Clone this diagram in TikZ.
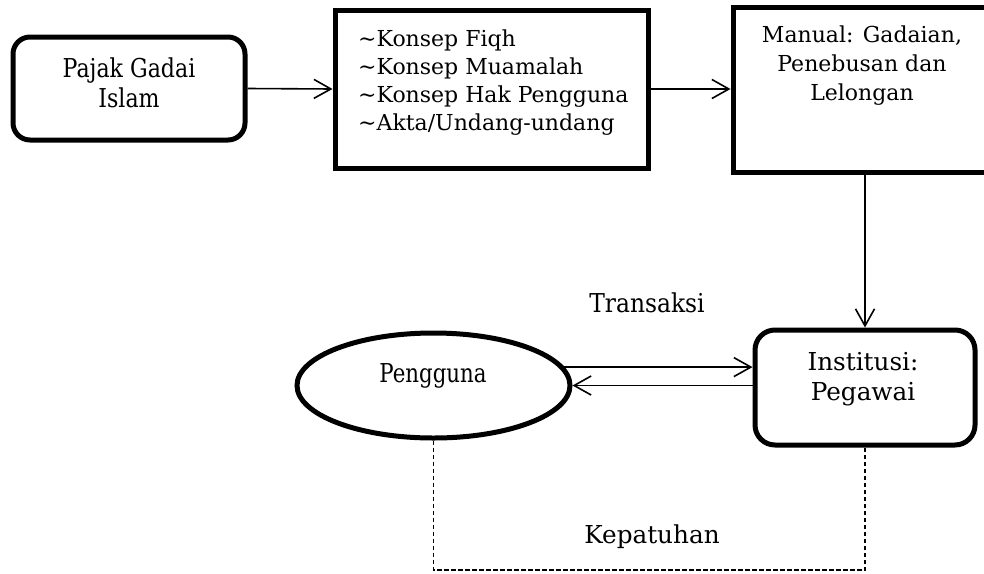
\documentclass[tikz,border=0pt]{standalone}
\usepackage{fontspec}
\setmainfont{DejaVu Serif}
\newfontfamily\condA[FakeStretch=0.85]{DejaVu Serif}
\newfontfamily\condB[FakeStretch=0.82]{DejaVu Serif}
\newfontfamily\condC[FakeStretch=0.9]{DejaVu Serif}
\usetikzlibrary{arrows.meta,shapes.geometric}
\tikzset{
  thickbox/.style={draw, line width=5pt, inner sep=0pt},
  rbox/.style={thickbox, rounded corners=17pt},
  arr/.style={line width=1.6pt, -{Straight Barb[length=17pt,width=19pt,line width=1.6pt]}},
  dline/.style={line width=1.6pt, dash pattern=on 4.5pt off 2.5pt},
  txt/.style={inner sep=0pt, anchor=base},
}
\begin{document}
\begin{tikzpicture}[x=1pt,y=-1pt]
\clip (0,0) rectangle (984,573);
% boxes
\node[rbox, minimum width=232pt, minimum height=103pt] (pajak) at (129,88.5) {};
\node[thickbox, minimum width=313pt, minimum height=158pt] (konsep) at (491.5,89) {};
\node[thickbox, minimum width=290pt, minimum height=165pt] (manual) at (878,89.5) {};
\node[rbox, rounded corners=20pt, minimum width=220pt, minimum height=115pt] (inst) at (865,387.5) {};
\node[ellipse, draw, line width=5pt, inner sep=0pt, minimum width=273pt, minimum height=105pt] (pengguna) at (433.5,385.5) {};
\coordinate (kp) at (0,570);
% texts
\node[txt, font=\condA\fontsize{26}{30}\selectfont] (tpajak) at (129,77) {\begin{tabular}[t]{@{}c@{}}Pajak Gadai\\Islam\end{tabular}};
\node[txt, anchor=base west, font=\fontsize{22}{28}\selectfont] (tkonsep) at (358,46) {\begin{tabular}[t]{@{}l@{}}\textasciitilde Konsep Fiqh\\\textasciitilde Konsep Muamalah\\\textasciitilde Konsep Hak Pengguna\\\textasciitilde Akta/Undang-undang\end{tabular}};
\node[txt, font=\fontsize{22}{29}\selectfont] (tmanual) at (862,42) {\begin{tabular}[t]{@{}c@{}}Manual: Gadaian,\\Penebusan dan\\Lelongan\end{tabular}};
\node[txt, font=\fontsize{24.7}{30}\selectfont] (tinst) at (863,370) {\begin{tabular}[t]{@{}c@{}}Institusi:\\Pegawai\end{tabular}};
\node[txt, font=\condB\fontsize{26}{30}\selectfont] (tpeng) at (433,382) {Pengguna};
\node[txt, font=\condC\fontsize{26}{30}\selectfont] (ttrans) at (647,312) {Transaksi};
\node[txt, font=\fontsize{24.7}{30}\selectfont] (tkep) at (652,543) {Kepatuhan};
% connectors
\draw[arr] (pajak.east) -- (konsep.west);
\draw[arr] (konsep.east) -- (konsep.east -| manual.west);
\draw[arr] (manual.south -| inst.north) -- (inst.north);
\draw[arr] (pengguna.8) -- (pengguna.8 -| inst.west);
\draw[arr] (inst.west |- pengguna.east) -- (pengguna.east);
\draw[dline] (pengguna.south) -- (pengguna.south |- kp) -| (inst.south);
\end{tikzpicture}
\end{document}
